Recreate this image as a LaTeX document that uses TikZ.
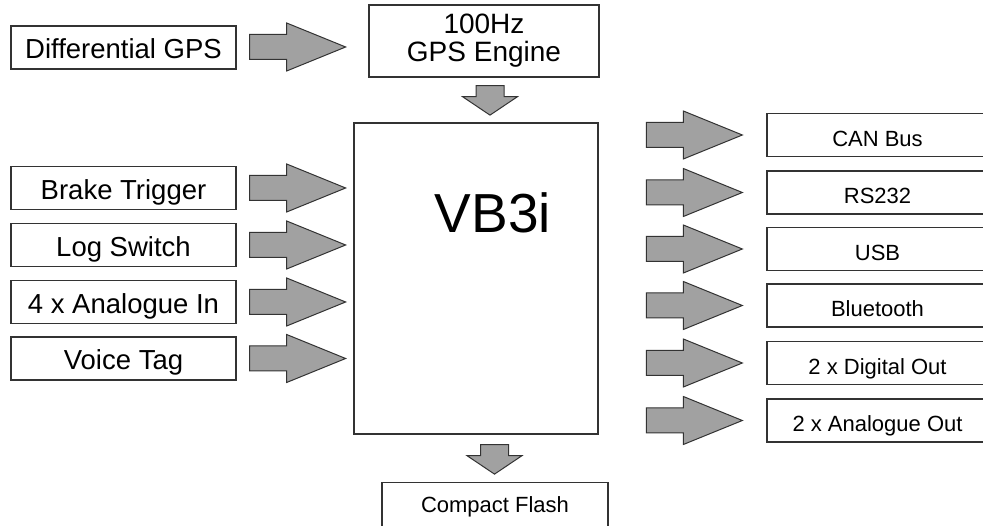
\documentclass[tikz,border=0pt]{standalone}
\usepackage{fontspec}
\setmainfont{Liberation Sans}
\usetikzlibrary{calc}
\tikzset{
  boxstyle/.style={draw=black!80, line width=1.3pt, fill=white, inner sep=0pt, align=center},
  leftbox/.style={boxstyle, minimum width=225pt, text height=33pt, text depth=10pt, font=\fontsize{27.5}{30}\selectfont},
  rightbox/.style={boxstyle, minimum width=221pt, text height=33pt, text depth=10pt, font=\fontsize{22}{24}\selectfont},
  arrowfill/.style={draw=black!80, line width=1pt, fill=black!37, line join=miter},
  rarr/.pic={\path[arrowfill] (0,-12.5) -- (37,-12.5) -- (37,-24) -- (96,0) -- (37,24) -- (37,12.5) -- (0,12.5) -- cycle;},
  darr/.pic={\path[arrowfill] (-14,0) -- (-14,11) -- (-27.5,11) -- (0,29.5) -- (27.5,11) -- (14,11) -- (14,0) -- cycle;}
}
\begin{document}
\begin{tikzpicture}[x=1pt,y=-1pt]
\useasboundingbox[fill=white] (0,0) rectangle (983,526);
% left inputs
\node[leftbox] (dgps) at (123.5,47.5) {Differential GPS};
\node[leftbox] (brake) at (123.5,188) {Brake Trigger};
\node[leftbox] (log) at (123.5,245) {Log Switch};
\node[leftbox] (ain) at (123.5,302) {4 x Analogue In};
\node[leftbox] (voice) at (123.5,358.5) {Voice Tag};
% GPS engine
\node[boxstyle, minimum width=230pt, minimum height=72pt, font=\fontsize{28}{28}\selectfont] (gps) at (484,41) {100Hz\\GPS Engine};
% main box
\node[boxstyle, minimum width=244pt, minimum height=311pt] (vb) at (476,278.5) {};
\node[font=\fontsize{55}{55}\selectfont, inner sep=0pt, anchor=base] (vblabel) at (493,232.5) {VB3i};
% right outputs
\node[rightbox] (can) at (877.5,135) {CAN Bus};
\node[rightbox] (rs) at (877.5,192.5) {RS232};
\node[rightbox] (usb) at (877.5,249) {USB};
\node[rightbox] (bt) at (877.5,305.5) {Bluetooth};
\node[rightbox] (dout) at (877.5,363) {2 x Digital Out};
\node[rightbox] (aout) at (877.5,420.5) {2 x Analogue Out};
% compact flash
\node[boxstyle, minimum width=226pt, anchor=north, text height=30pt, text depth=34pt, font=\fontsize{22}{24}\selectfont] (cf) at (495,482) {Compact Flash};
% arrows
\pic at ($(dgps.east)+(13,-0.5)$) {rarr};
\foreach \n in {brake,log,ain,voice} {\pic at ($(\n.east)+(13,0)$) {rarr};}
\foreach \n in {can,rs,usb,bt,dout,aout} {\pic at ($(\n.west)+(-120,0)$) {rarr};}
\pic at ($(gps.south)+(6,8)$) {darr};
\pic at ($(vb.south)+(18.5,10)$) {darr};
\end{tikzpicture}
\end{document}
